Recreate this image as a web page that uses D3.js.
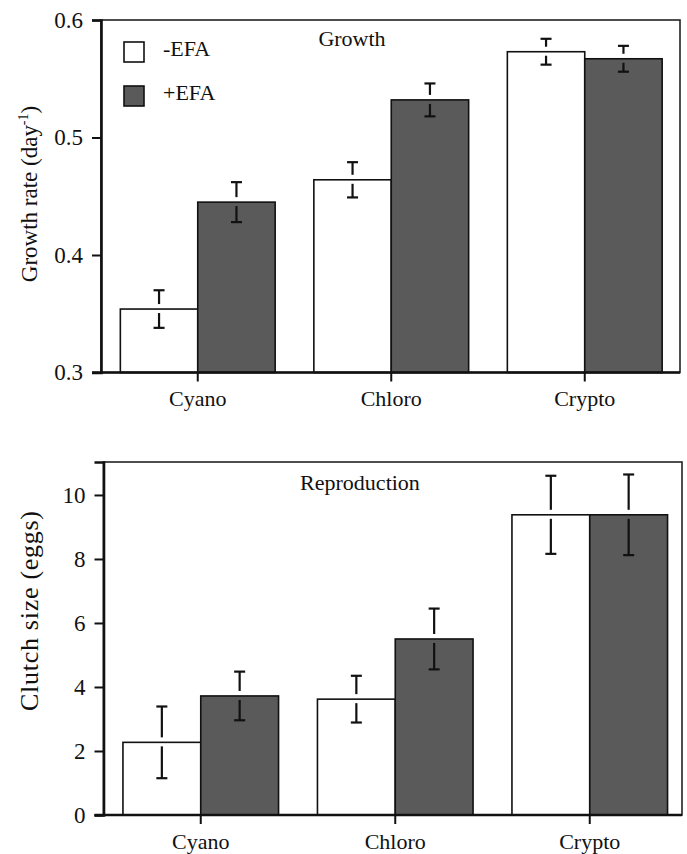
<html>
	<head>
		<script src="https://d3js.org/d3.v7.min.js"></script>
		<style>
			body { margin: 0; background: #fff; }
			text { font-family: "Liberation Serif", "DejaVu Serif", serif; fill: #111; }
		</style>
	</head>
	<body>
		<script type="text/javascript">

// categories and treatments
var categories = ["Cyano", "Chloro", "Crypto"];
var treatments = ["-EFA", "+EFA"];

// growth rate (day-1), mean and error
var growthMinus = [0.354, 0.464, 0.573];
var growthPlus = [0.445, 0.532, 0.567];
var growthErrMinus = [0.016, 0.015, 0.011];
var growthErrPlus = [0.017, 0.014, 0.011];
var growthTicks = [0.3, 0.4, 0.5, 0.6];

// clutch size (eggs), mean and error
var clutchMinus = [2.27, 3.62, 9.38];
var clutchPlus = [3.72, 5.50, 9.38];
var clutchErrMinus = [1.12, 0.73, 1.22];
var clutchErrPlus = [0.76, 0.95, 1.26];
var clutchTicks = [0, 2, 4, 6, 8, 10];

var fills = ["#ffffff", "#5a5a5a"];

var svg = d3.select("body").append("svg")
	.attr("width", 687)
	.attr("height", 854);

function panel(opt) {
	var g = svg.append("g");

	var x = d3.scaleBand().domain(categories).range([opt.x0, opt.x0 + 3 * opt.step]).padding(0);
	var xs = d3.scaleBand().domain(treatments).range([0, x.bandwidth() * 0.8]).padding(0);
	var y = d3.scaleLinear().domain(opt.domain).range([opt.bottom, opt.top]);

	var rows = categories.map(function(c, i) {
		return [
			{ cat: c, t: treatments[0], v: opt.minus[i], e: opt.errMinus[i] },
			{ cat: c, t: treatments[1], v: opt.plus[i], e: opt.errPlus[i] }
		];
	});

	var groups = g.selectAll("g.grp")
		.data(rows)
		.enter().append("g")
		.attr("class", "grp")
		.attr("transform", function(d) { return "translate(" + (x(d[0].cat) + x.bandwidth() * 0.1) + ",0)"; });

	groups.selectAll("rect")
		.data(function(d) { return d; })
		.enter().append("rect")
		.attr("x", function(d) { return xs(d.t); })
		.attr("width", xs.bandwidth())
		.attr("y", function(d) { return y(d.v); })
		.attr("height", function(d) { return y(opt.domain[0]) - y(d.v); })
		.attr("fill", function(d, i) { return fills[i]; })
		.attr("stroke", "#111")
		.attr("stroke-width", 1.6);

	// error bars, broken where they cross the bar top
	var gapUp = 5, gapDown = 4, cap = 5.5;
	var eb = groups.selectAll("g.err")
		.data(function(d) { return d; })
		.enter().append("g")
		.attr("class", "err")
		.attr("transform", function(d) { return "translate(" + (xs(d.t) + xs.bandwidth() / 2) + ",0)"; });
	eb.append("line")
		.attr("y1", function(d) { return y(d.v) - gapUp; })
		.attr("y2", function(d) { return y(d.v + d.e); });
	eb.append("line")
		.attr("x1", -cap).attr("x2", cap)
		.attr("y1", function(d) { return y(d.v + d.e); })
		.attr("y2", function(d) { return y(d.v + d.e); });
	eb.append("line")
		.attr("y1", function(d) { return y(d.v) + gapDown; })
		.attr("y2", function(d) { return y(d.v - d.e); });
	eb.append("line")
		.attr("x1", -cap).attr("x2", cap)
		.attr("y1", function(d) { return y(d.v - d.e); })
		.attr("y2", function(d) { return y(d.v - d.e); });
	eb.selectAll("line").attr("stroke", "#111").attr("stroke-width", 2.2);

	// frame
	g.append("rect")
		.attr("x", opt.x0)
		.attr("y", opt.top)
		.attr("width", opt.right - opt.x0)
		.attr("height", opt.bottom - opt.top)
		.attr("fill", "none")
		.attr("stroke", "#222")
		.attr("stroke-width", 1.6);

	// y axis
	var ya = g.append("g")
		.attr("transform", "translate(" + opt.x0 + ",0)")
		.call(d3.axisLeft(y).tickValues(opt.ticks).tickFormat(opt.fmt).tickSize(9).tickPadding(9));
	ya.select(".domain").attr("stroke-width", 2.6).attr("stroke", "#111");
	ya.selectAll(".tick line").attr("stroke-width", 2).attr("stroke", "#111");
	ya.selectAll("text").style("font-family", "Liberation Serif").style("font-size", "23px").attr("fill", "#111");

	// x axis
	var xa = g.append("g")
		.attr("transform", "translate(0," + opt.bottom + ")")
		.call(d3.axisBottom(x).tickSize(9).tickPadding(9));
	xa.select(".domain").attr("d", "M" + (opt.x0 - 9) + ",0H" + opt.right).attr("stroke-width", 2.6).attr("stroke", "#111");
	xa.selectAll(".tick").attr("transform", function(d) { return "translate(" + (x(d) + x.bandwidth() / 2) + ",0)"; });
	xa.selectAll(".tick line").attr("stroke-width", 2).attr("stroke", "#111");
	xa.selectAll("text").style("font-family", "Liberation Serif").style("font-size", "22px").attr("fill", "#111");

	// panel title
	g.append("text")
		.attr("x", opt.titleX)
		.attr("y", opt.titleY)
		.attr("text-anchor", "middle")
		.style("font-size", "22px")
		.text(opt.title);

	// y label
	var yl = g.append("text")
		.attr("transform", "translate(" + opt.labelX + "," + opt.labelY + ") rotate(-90)")
		.attr("text-anchor", "middle")
		.style("font-size", opt.labelSize);
	if (opt.sup) {
		yl.append("tspan").text(opt.label);
		yl.append("tspan").attr("dy", -9).style("font-size", "14px").text(opt.sup);
		yl.append("tspan").attr("dy", 9).text(")");
	} else {
		yl.attr("textLength", opt.labelLen).attr("lengthAdjust", "spacing").text(opt.label);
	}
	return g;
}

panel({
	x0: 101, step: 193.5, right: 680, top: 20, bottom: 372.5,
	domain: [0.3, 0.6], ticks: growthTicks, fmt: d3.format(".1f"),
	minus: growthMinus, plus: growthPlus, errMinus: growthErrMinus, errPlus: growthErrPlus,
	title: "Growth", titleX: 352, titleY: 46,
	label: "Growth rate (day", sup: "-1", labelSize: "23px", labelX: 37, labelY: 194
});

panel({
	x0: 103.5, step: 194.5, right: 682, top: 462, bottom: 815,
	domain: [0, 11.03], ticks: clutchTicks, fmt: d3.format("d"),
	minus: clutchMinus, plus: clutchPlus, errMinus: clutchErrMinus, errPlus: clutchErrPlus,
	title: "Reproduction", titleX: 360, titleY: 490,
	label: "Clutch size (eggs)", sup: null, labelSize: "26px", labelLen: 200, labelX: 38, labelY: 611
});

// legend
var legend = svg.append("g").selectAll("g")
	.data(treatments)
	.enter().append("g")
	.attr("transform", function(d, i) { return "translate(124," + (42 + i * 44) + ")"; });
legend.append("rect")
	.attr("width", 20).attr("height", 20)
	.attr("fill", function(d, i) { return fills[i]; })
	.attr("stroke", "#111")
	.attr("stroke-width", 1.6);
legend.append("text")
	.attr("x", 39).attr("y", 14)
	.style("font-size", "22px")
	.text(function(d) { return d; });

		</script>
	</body>
</html>
